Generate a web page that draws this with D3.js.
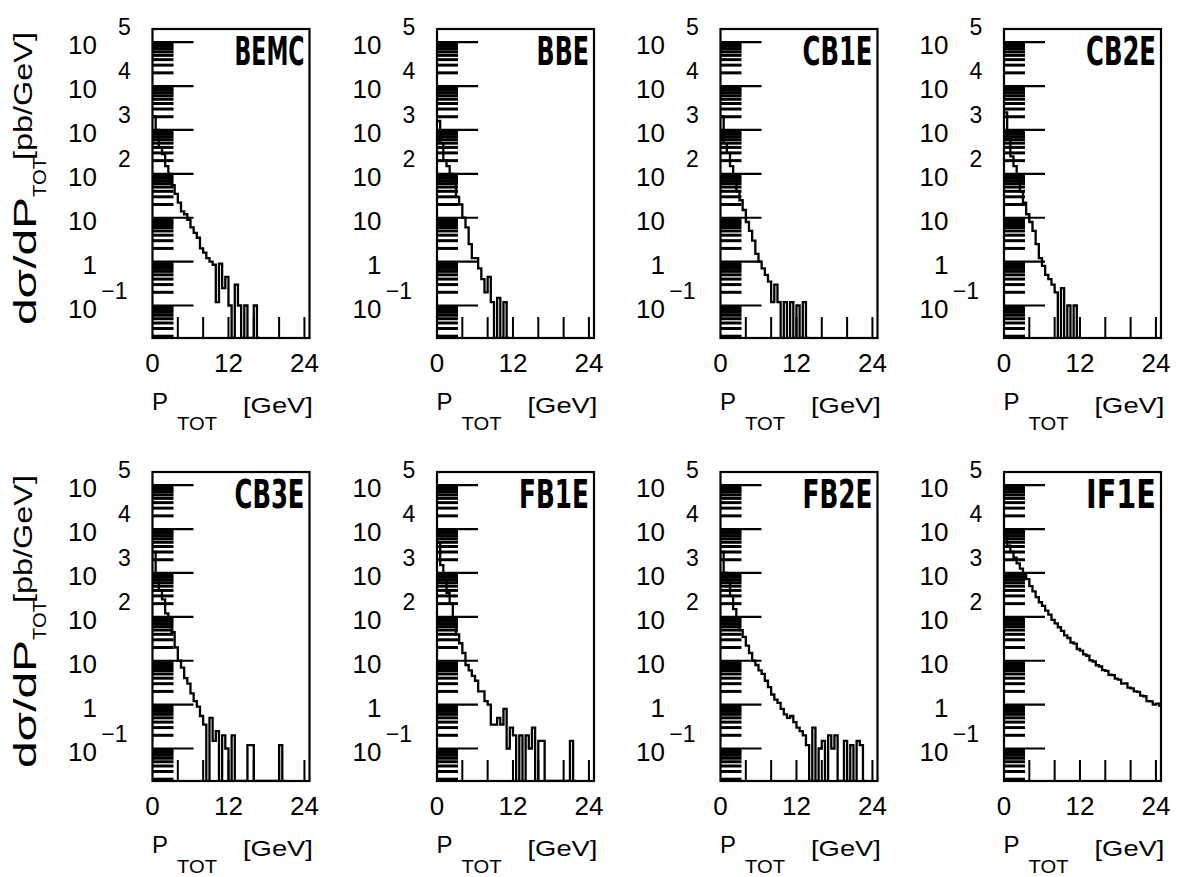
<!DOCTYPE html>
<html><head><meta charset="utf-8">
<script src="https://cdn.jsdelivr.net/npm/d3@7"></script>
<style>body{margin:0;background:#fff}</style>
</head><body>
<svg id="c" width="1179" height="877"></svg>
<script>
// ---- data (pb/GeV per 0.5 GeV bin, starting at 0 GeV; 0 = empty bin) ----
const detectors = ["BEMC", "BBE", "CB1E", "CB2E", "CB3E", "FB1E", "FB2E", "IF1E"];
const binWidthGeV = 0.5;
const bemc = [2000,1000,400,280,150,100,55,35,22,14, 12,9,6,4.5,3.5,2,1.6,1.2,1.0,0.85, 0.12,0.9,0.25,0.45,0.1,0,0.3,0.1,0,0.1, 0,0,0.1,0];
const bbe  = [1600,500,200,150,100,60,30,20,10,6, 2.5,1.2,1.2,0.7,0.4,0.2,0.45,0.12,0,0.15, 0,0.12,0];
const cb1e = [2000,500,300,150,80,40,25,15,8,5, 3,1.5,1.0,0.7,0.5,0.35,0.12,0.3,0.12,0, 0.12,0,0.12,0,0.1,0,0.12,0];
const cb2e = [2500,600,250,150,70,40,22,12,8,5, 2.5,1.2,0.8,0.5,0.4,0.3,0.2,0,0.25,0, 0.1,0,0.1,0];
const cb3e = [3000,900,400,250,120,90,45,20,10,7, 4,3,1.8,1.2,0.9,0.55,0.35,0,0.5,0.15, 0.25,0,0.2,0.1,0,0.2,0,0,0,0, 0.12,0.12,0,0,0,0,0,0,0,0, 0.12,0];
const fb1e = [5000,1500,700,350,200,90,40,25,15,8, 6,4.5,3.5,2,2,1.2,1.0,0.35,0.35,0.5, 0.35,0.8,0.1,0.3,0.2,0,0.2,0,0.2,0.1, 0.3,0,0.15,0.15,0,0,0,0,0,0, 0,0,0.15,0];
const fb2e = [3000,1000,600,300,150,90,50,35,22,15, 10,8,6,5,3.5,2.5,1.7,1.3,1.1,0.8, 0.6,0.5,0.55,0.4,0.3,0.25,0.2,0.12,0,0.3, 0,0.1,0.15,0,0.2,0.1,0.2,0,0,0.15, 0,0.12,0,0.15,0.12,0];
const if1e = [7000,4200,3000,2240,1660,1260,930,720,500,380, 280,215,178,138,112,85,71,58,48,38, 33,26,24.5,18.5,17,14,13,10.2,9.6,7.9, 7.4,6.1,5.9,4.8,4.7,3.9,3.7,3.0,3.05,2.45, 2.35,2.0,1.95,1.6,1.55,1.2,1.18,1.0,1.05,0.95];
const seriesList = [bemc, bbe, cb1e, cb2e, cb3e, fb1e, fb2e, if1e];

const xTickValues = [4, 8, 12, 16, 20, 24];
const xLabelValues = [0, 12, 24];
const yDecades = [5, 4, 3, 2, 1, 0, -1];
const xTitle = ["P", "TOT", "[GeV]"];
const yTitle = ["dσ/dP", "TOT", "[pb/GeV]"];

// ---- layout ----
const svg = d3.select("#c");
const colLeft = [152.5, 437, 720.5, 1004];
const rowTop = [29, 472];
const W = 157, H = 309;
const x = d3.scaleLinear().domain([0, 24.8]).range([0, W]);
const y = d3.scaleLog().domain([Math.pow(10, -1.74), Math.pow(10, 5.30)]).range([H, 0]);
const lab = "'Liberation Sans', Arial, sans-serif";

// fit a text to a given width by horizontal scaling (anchor: "start" or "end")
function fitText(sel, width, anchor) {
  const n = sel.node();
  const w = n.getComputedTextLength();
  const sx = width / w;
  const x0 = +sel.attr("x"), y0 = +sel.attr("y");
  sel.attr("x", null).attr("y", null).attr("text-anchor", anchor)
    .attr("transform", `translate(${x0},${y0}) scale(${sx},1)`);
}

detectors.forEach((name, k) => {
  const col = k % 4, row = Math.floor(k / 4);
  const g = svg.append("g").attr("transform", `translate(${colLeft[col]},${rowTop[row]})`);
  const cid = "clip" + k;
  g.append("clipPath").attr("id", cid).append("rect").attr("x", 0).attr("y", 0).attr("width", W).attr("height", H);

  // histogram
  const vals = seriesList[k];
  const pts = [];
  vals.forEach((v, i) => {
    const yy = v > 0 ? y(v) : H;
    pts.push([x(i * binWidthGeV), yy]);
    pts.push([x((i + 1) * binWidthGeV), yy]);
  });
  g.append("path").attr("clip-path", `url(#${cid})`)
    .attr("d", d3.line()(pts))
    .attr("fill", "none").attr("stroke", "#000").attr("stroke-width", 2.3);

  // minor y ticks
  const [lo, hi] = y.domain().map(Math.log10);
  for (let e = -2; e <= 5; e++) {
    for (let m = 2; m <= 9; m++) {
      const v = m * Math.pow(10, e), lv = Math.log10(v);
      if (lv > lo + 0.02 && lv < hi - 0.02) {
        g.append("line").attr("x1", 0).attr("x2", 21).attr("y1", y(v)).attr("y2", y(v))
          .attr("stroke", "#000").attr("stroke-width", 3);
      }
    }
  }
  // major y ticks + labels
  yDecades.forEach(e => {
    const yy = y(Math.pow(10, e));
    g.append("line").attr("x1", 0).attr("x2", 41).attr("y1", yy).attr("y2", yy)
      .attr("stroke", "#000").attr("stroke-width", 2.2);
    const base = e === 0 ? "1" : "10";
    g.append("text").attr("x", -55.5).attr("y", yy + 12).attr("text-anchor", "end")
      .attr("font-family", lab).attr("font-size", 26).text(base);
    if (e !== 0 && e !== 1) {
      const isNeg = e < 0;
      g.append("text").attr("x", isNeg ? -25 : -34.5).attr("y", yy - 7)
        .attr("text-anchor", isNeg ? "end" : "start")
        .attr("font-family", lab).attr("font-size", 23)
        .text(isNeg ? "\u2212" + (-e) : String(e));
    }
  });
  // x ticks
  xTickValues.forEach(t => {
    g.append("line").attr("x1", x(t)).attr("x2", x(t)).attr("y1", H).attr("y2", H - 21)
      .attr("stroke", "#000").attr("stroke-width", 2);
  });
  xLabelValues.forEach(t => {
    g.append("text").attr("x", x(t)).attr("y", H + 34).attr("text-anchor", "middle")
      .attr("font-family", lab).attr("font-size", 26).text(t);
  });
  // frame
  g.append("rect").attr("x", 0).attr("y", 0).attr("width", W).attr("height", H)
    .attr("fill", "none").attr("stroke", "#000").attr("stroke-width", 2.2);

  // title
  const tt = g.append("text").attr("x", W - 5).attr("y", 36)
    .attr("font-family", "'DejaVu Sans Condensed', 'DejaVu Sans', sans-serif")
    .attr("font-weight", "bold").attr("font-size", 39)
    .text(name);
  fitText(tt, 17.5 * name.length, "end");

  // x title
  g.append("text").attr("x", -0.5).attr("y", H + 72).attr("font-family", lab).attr("font-size", 24).text(xTitle[0]);
  const t2 = g.append("text").attr("x", 24.5).attr("y", H + 92).attr("font-family", lab).attr("font-size", 18).text(xTitle[1]);
  fitText(t2, 40, "start");
  const t3 = g.append("text").attr("x", 90.5).attr("y", H + 75).attr("font-family", lab).attr("font-size", 22).text(xTitle[2]);
  fitText(t3, 70, "start");

  // y title (first column only)
  if (col === 0) {
    const t = svg.append("g").attr("transform", `translate(0,${rowTop[row] - 29})`);
    t.append("text").attr("transform", "translate(36,325) rotate(-90)")
      .attr("font-family", lab).attr("font-size", 31)
      .attr("textLength", 128).attr("lengthAdjust", "spacingAndGlyphs").text(yTitle[0]);
    t.append("text").attr("transform", "translate(46,197) rotate(-90)")
      .attr("font-family", lab).attr("font-size", 19)
      .attr("textLength", 40).attr("lengthAdjust", "spacingAndGlyphs").text(yTitle[1]);
    t.append("text").attr("transform", "translate(32,160) rotate(-90)")
      .attr("font-family", lab).attr("font-size", 26)
      .attr("textLength", 128).attr("lengthAdjust", "spacingAndGlyphs").text(yTitle[2]);
  }
});
</script>
</body></html>
